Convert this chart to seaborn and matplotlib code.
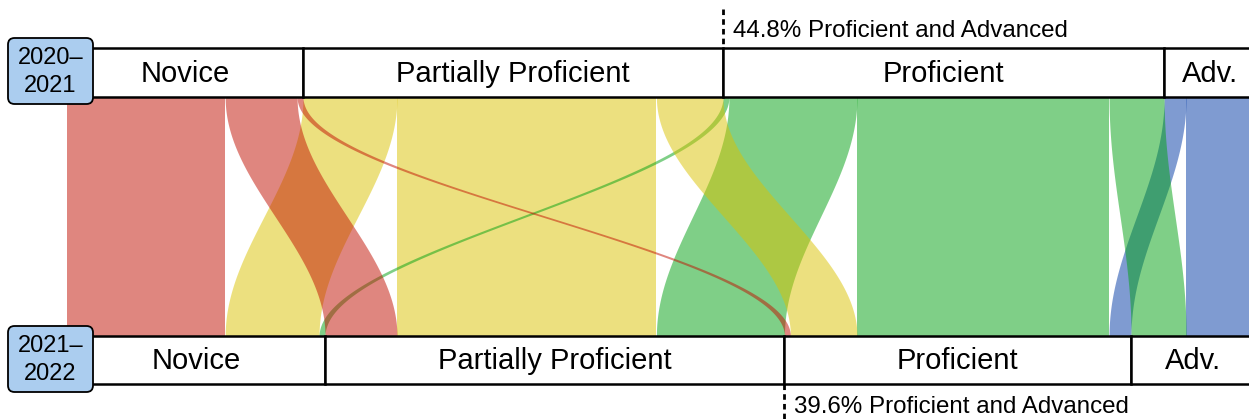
import numpy as np
import matplotlib
matplotlib.use('Agg')
import matplotlib.pyplot as plt
from matplotlib.patches import Rectangle, FancyBboxPatch
import seaborn as sns

levels = ['Novice', 'Partially Proficient', 'Proficient', 'Adv.']
years = ['2020–\n2021', '2021–\n2022']
# share of students (%) moving from 2020-21 level (rows) to 2021-22 level (columns)
from_novice = [13.3, 6.05, 0.5, 0.0]
from_partial = [7.9, 21.82, 5.6, 0.0]
from_proficient = [0.5, 10.77, 21.2, 4.63]
from_advanced = [0.0, 0.0, 1.85, 5.8]
prof_adv_labels = ['44.8% Proficient and Advanced', '39.6% Proficient and Advanced']
level_colors = ['#c10f00', '#dbc300', '#01a111', '#0139a5']

sns.set_theme(style='white')
plt.rcParams['font.family'] = ['Liberation Sans', 'DejaVu Sans']
plt.rcParams['text.color'] = 'black'
palette = sns.color_palette(level_colors)

flows = np.array([from_novice, from_partial, from_proficient, from_advanced])
top_edges = np.concatenate([[0], np.cumsum(flows.sum(axis=1))])
bot_edges = np.concatenate([[0], np.cumsum(flows.sum(axis=0))])
# where each ribbon starts inside its block, top (by target) and bottom (by source)
top_start = top_edges[:-1, None] + np.cumsum(flows, axis=1) - flows
bot_start = bot_edges[None, :-1] + np.cumsum(flows, axis=0) - flows

fig = plt.figure(figsize=(12.49, 4.19), dpi=100)
ax = fig.add_axes([0, 0, 1, 1])
px = 11.89  # pixels per percent
ax.set_xlim(-67 / px, (1249 - 67) / px)
ax.set_ylim(419, 0)
ax.axis('off')

y_top, y_bot = 97, 336
u = np.linspace(0, 1, 300)
s = (1 - np.cos(np.pi * u)) / 2
yy = y_top + (y_bot - y_top) * u

# straight ribbons first, then leftward, rightward ones end up on top
pairs = [(i, j) for i in range(4) for j in range(4) if flows[i, j] > 0]
pairs.sort(key=lambda p: 0 if p[0] == p[1] else (1 if p[1] < p[0] else 2))
for i, j in pairs:
    w = flows[i, j]
    x0, x1 = top_start[i, j], bot_start[i, j]
    left = x0 + (x1 - x0) * s
    ax.fill_betweenx(yy, left, left + w, color=palette[i], alpha=0.5, lw=0, zorder=1)

# level header rows
for edges, (ya, yb) in [(top_edges, (48, 97)), (bot_edges, (336, 384))]:
    for k, name in enumerate(levels):
        ax.add_patch(Rectangle((edges[k], ya), edges[k + 1] - edges[k], yb - ya,
                               facecolor='white', edgecolor='black', lw=1.8,
                               zorder=3, clip_on=False))
        ax.text((edges[k] + edges[k + 1]) / 2, (ya + yb) / 2 + 1, name,
                ha='center', va='center', fontsize=21, zorder=4)

# year boxes
for label, yc in zip(years, [71, 359]):
    ax.add_patch(FancyBboxPatch((-59 / px, yc - 33), 85 / px, 66,
                                boxstyle='round,pad=0,rounding_size=0.55',
                                mutation_aspect=px, facecolor='#abcdef',
                                edgecolor='black', lw=1.3, zorder=5, clip_on=False))
    ax.text(-16.5 / px, yc + 1, label, ha='center', va='center', fontsize=17,
            linespacing=1.3, zorder=6)

# proficient + advanced markers
xm = top_edges[2]
ax.plot([xm, xm], [9, 48], color='black', lw=2, ls=(0, (2, 1.5)), zorder=4)
ax.text(xm + 10 / px, 31, prof_adv_labels[0], ha='left', va='center', fontsize=17.4)
xm = bot_edges[2]
ax.plot([xm, xm], [384, 419], color='black', lw=2, ls=(0, (2, 1.5)), zorder=4)
ax.text(xm + 10 / px, 407, prof_adv_labels[1], ha='left', va='center', fontsize=17.4)

fig.savefig('out.png', dpi=100)
